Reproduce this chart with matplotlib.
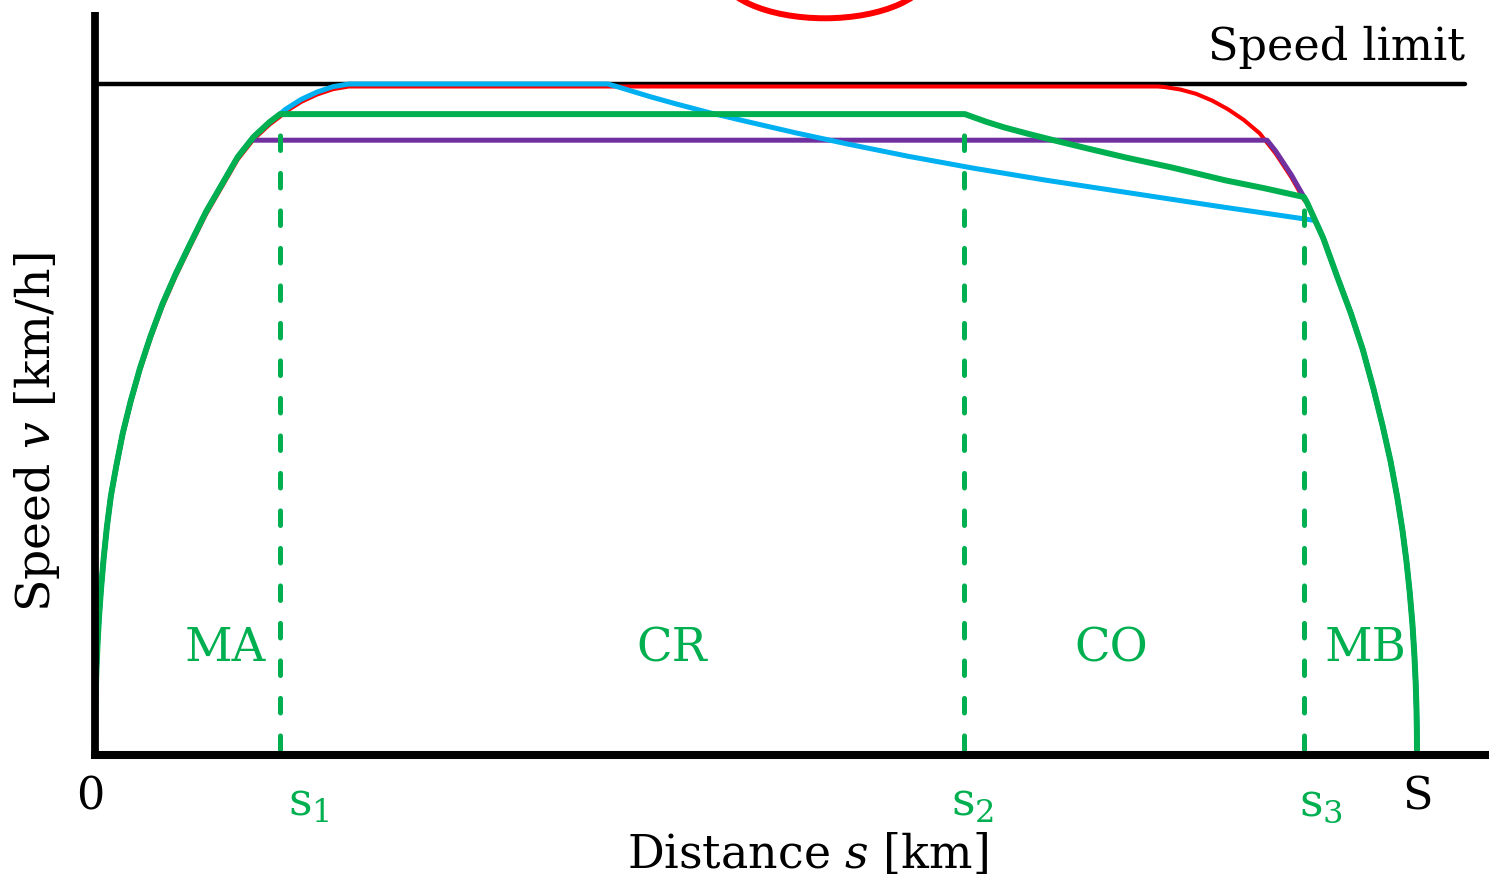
import matplotlib
matplotlib.use("Agg")
import matplotlib.pyplot as plt
import matplotlib.transforms as mtransforms
from matplotlib.patches import Ellipse

plt.rcParams['font.family'] = ['DejaVu Serif']
plt.rcParams['mathtext.fontset'] = 'dejavuserif'
plt.rcParams['lines.scale_dashes'] = False

# distance in % of S, speed in % of the speed limit
# maximum acceleration branch
acc_s = [0, 0.02, 0.06, 0.12, 0.2, 0.3, 0.45, 0.65, 0.9, 1.2, 1.6, 2.1, 2.7, 3.4,
         4.2, 5.1, 6.1, 7.2, 8.4, 9.6, 10.8, 11.8, 12.0, 13.2, 14.0, 14.4, 15.6,
         16.8, 18.0, 19.2]
acc_v = [0, 5.4, 9.3, 13.0, 16.6, 20.2, 24.4, 29.0, 33.8, 38.4, 42.8, 47.8, 52.6, 57.5,
         62.3, 67.1, 71.6, 76.1, 80.9, 85.0, 89.1, 91.6, 92.1, 94.3, 95.5, 96.2, 97.7,
         98.8, 99.6, 100]

# maximum braking branch
brk_s = [80.4, 80.9, 82.1, 83.3, 84.5, 85.7, 86.9, 88.1, 88.66, 89.3, 90.5, 91.45,
         91.7, 92.3, 92.9, 94.0, 95.0, 95.9, 96.7, 97.4, 98.0, 98.5, 98.9, 99.2,
         99.45, 99.65, 99.8, 99.9, 99.96, 99.99, 100]
brk_v = [100, 99.92, 99.55, 98.9, 97.9, 96.6, 95.0, 93.0, 91.6, 90.0, 86.4, 83.1,
         82.2, 79.6, 77.0, 71.0, 65.7, 60.3, 54.5, 48.9, 43.6, 38.3, 33.3, 28.7,
         24.0, 19.4, 14.7, 10.5, 6.7, 3.3, 0]

# coasting branches
blue_co_s = [38.8, 39.5, 40.5, 42.0, 44.0, 46.5, 49.5, 53.0, 57.0, 61.5, 66.5, 72.0, 78.0, 85.0, 92.3]
blue_co_v = [100, 99.6, 99.0, 98.1, 97.0, 95.7, 94.3, 92.7, 91.0, 89.2, 87.4, 85.6, 83.8, 81.7, 79.6]
green_co_s = [65.8, 66.5, 67.5, 68.8, 70.5, 72.5, 75.0, 78.0, 81.5, 85.5, 88.5, 91.45]
green_co_v = [95.5, 95.0, 94.3, 93.5, 92.6, 91.6, 90.4, 89.0, 87.5, 85.6, 84.4, 83.1]

s_marks = [14.0, 65.75, 91.45]
s_tops = [95.3, 95.3, 82.9]
s_label_x = [16.19, 66.41, 92.74]
s_names = [r'$\mathrm{s}_1$', r'$\mathrm{s}_2$', r'$\mathrm{s}_3$']

phases = ['MA', 'CR', 'CO', 'MB']
phase_s = [9.83, 43.6, 76.85, 96.1]

S = 100
v_limit = 100

RED = '#FF0000'
GREEN = '#00B050'
BLUE = '#00B0F0'
PURPLE = '#7030A0'

fig = plt.figure(figsize=(14.89, 8.77), dpi=100)
ax = fig.add_axes([0, 0, 1, 1])
ax.set_xlim(-7.186, 105.446)
ax.set_ylim(-18.535, 112.556)
ax.axis('off')

# axes
ax.plot([0, 0], [-0.9, 110.8], color='black', lw=5.6, solid_capstyle='butt', zorder=6)
ax.plot([-0.3, 105.5], [-0.3, -0.3], color='black', lw=5.8, solid_capstyle='butt', zorder=6)

# speed limit
ax.plot([0, 103.6], [v_limit, v_limit], color='black', lw=3.2, solid_capstyle='round', zorder=1)
ax.text(103.6, 103.6, 'Speed limit', fontsize=32, ha='right', va='baseline')

# maximum speed profile (red), slightly shifted down
red_tr = mtransforms.offset_copy(ax.transData, fig=fig, x=0, y=-2.5, units='dots')
ax.plot(acc_s + brk_s[:12], acc_v + brk_v[:12],
        color=RED, lw=2.9, transform=red_tr, zorder=2)

# purple: accelerate, cruise at a lower speed, brake
ax.plot(acc_s[:22] + brk_s[8:], acc_v[:22] + brk_v[8:],
        color=PURPLE, lw=3.6, zorder=3)

# blue: accelerate, short cruise at the limit, long coast, brake
ax.plot(acc_s + blue_co_s + brk_s[14:], acc_v + blue_co_v + brk_v[14:],
        color=BLUE, lw=3.6, zorder=4)

# green: MA - CR - CO - MB
ax.plot(acc_s[:25] + green_co_s + brk_s[12:], acc_v[:25] + green_co_v + brk_v[12:],
        color=GREEN, lw=4.3, zorder=5)

# phase boundaries
for xs, top, lx, name in zip(s_marks, s_tops, s_label_x, s_names):
    ax.plot([xs, xs], [0.4, top], color=GREEN, lw=3.6, dashes=(10.5, 16.5),
            dash_capstyle='round', zorder=5)
    ax.text(lx, -7.5, name, color=GREEN, fontsize=33, ha='center', va='center')

for name, xs in zip(phases, phase_s):
    ax.text(xs, 15.6, name, color=GREEN, fontsize=33.5, ha='center', va='center')

ax.text(-0.38, -6.6, '0', fontsize=32, ha='center', va='center')
ax.text(S, -6.6, 'S', fontsize=32, ha='center', va='center')

ax.text(53.9, -15.2, r'Distance $s$ [km]', fontsize=33, ha='center', va='center')
ax.text(-4.39, 48.0, r'Speed $v$ [km/h]', fontsize=34, ha='center', va='center',
        rotation=90)

# highlight ellipse at the top
ax.add_patch(Ellipse((55.2, 117.0), 16.0, 14.35, fill=False, edgecolor=RED,
                     lw=4.3, clip_on=False, zorder=7))

fig.savefig('out.png', dpi=100)
